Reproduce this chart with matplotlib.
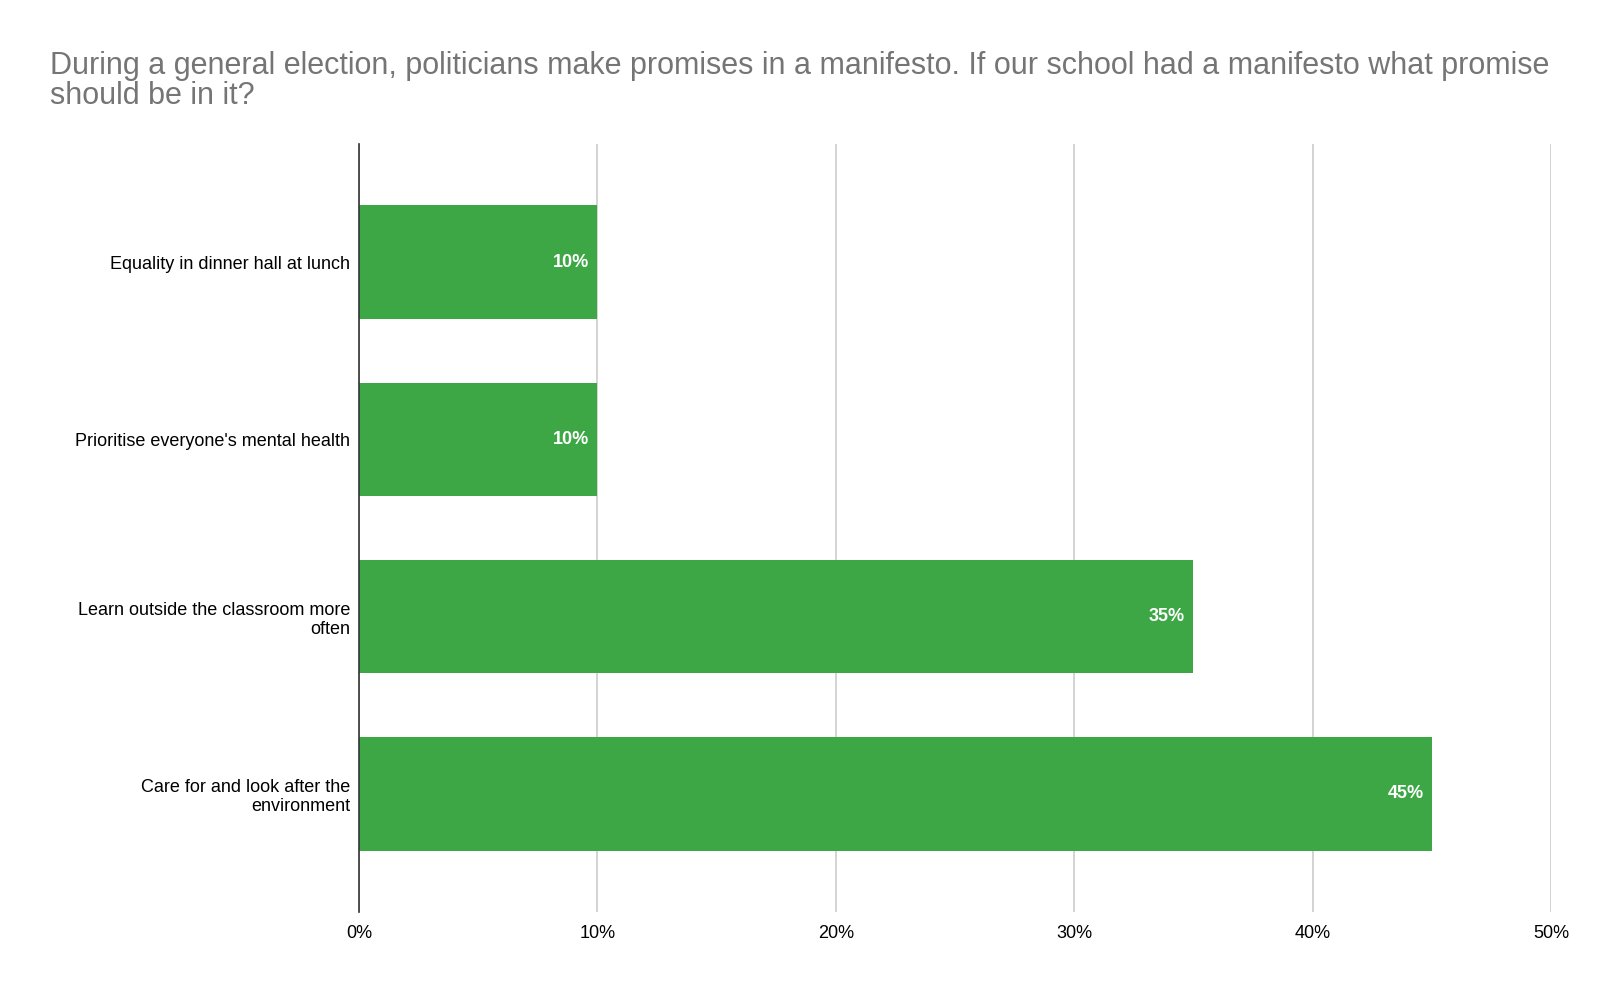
import matplotlib.pyplot as plt
from matplotlib.ticker import FuncFormatter

categorias = [
    "Equality in dinner hall at lunch",
    "Prioritise everyone's mental health",
    "Learn outside the classroom more\noften",
    "Care for and look after the\nenvironment",
]
porcentajes = [10, 10, 35, 45]
ticks_x = [0, 10, 20, 30, 40, 50]

titulo = ("During a general election, politicians make promises in a manifesto. "
          "If our school had a manifesto what promise\nshould be in it?")

plt.rcParams['font.family'] = ['Liberation Sans', 'DejaVu Sans']

fig = plt.figure(figsize=(16, 9.89), dpi=100)
W, H = 1600, 989
ax = fig.add_axes([359 / W, 1 - 912 / H, (1551 - 359) / W, (912 - 144) / H])

pos = list(range(len(categorias)))
ax.barh(pos, porcentajes, height=0.64, color='#3ca744', zorder=3)

for y, v in zip(pos, porcentajes):
    ax.annotate(f"{v}%", (v, y), xytext=(-6, 0), textcoords='offset points',
                ha='right', va='center', color='white', fontsize=13,
                fontweight='bold', zorder=4)

ax.set_xlim(0, 50)
ax.set_ylim(3.667, -0.667)
ax.set_xticks(ticks_x)
ax.xaxis.set_major_formatter(FuncFormatter(lambda x, p: f"{int(x)}%"))
ax.set_yticks(pos)
ax.set_yticklabels(categorias, fontsize=13)
ax.tick_params(axis='x', length=0, pad=9, labelsize=13)
ax.tick_params(axis='y', length=0, pad=6.5)
ax.grid(axis='x', color='#cccccc', linewidth=1.2, zorder=0)

for lado in ['top', 'right', 'bottom']:
    ax.spines[lado].set_visible(False)
ax.spines['left'].set_color('#333333')
ax.spines['left'].set_linewidth(1.2)
ax.spines['left'].set_zorder(5)

fig.text(50 / W, 1 - 51 / H, titulo, ha='left', va='top', fontsize=22,
         color='#757575', linespacing=0.99)

fig.savefig('out.png', dpi=100)
